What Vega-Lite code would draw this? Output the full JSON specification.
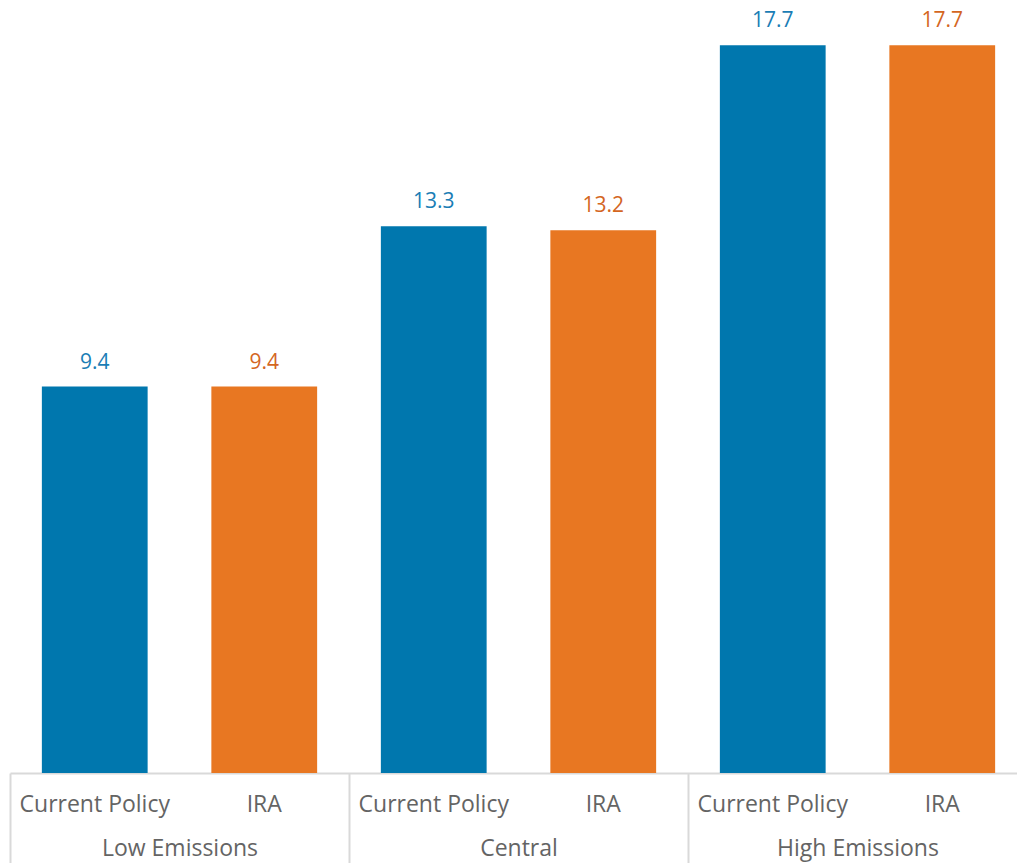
{
  "$schema": "https://vega.github.io/schema/vega-lite/v6.json",
  "width": 1007,
  "height": 773,
  "autosize": {"type": "none"},
  "padding": {"left": 10, "top": 0, "right": 0, "bottom": 90},
  "background": "white",
  "config": {"view": {"stroke": null}, "font": "Open Sans"},
  "data": {"values": [
    {"group": "Low Emissions", "policy": "Current Policy", "value": 9.4},
    {"group": "Low Emissions", "policy": "IRA", "value": 9.4},
    {"group": "Central", "policy": "Current Policy", "value": 13.3},
    {"group": "Central", "policy": "IRA", "value": 13.2},
    {"group": "High Emissions", "policy": "Current Policy", "value": 17.7},
    {"group": "High Emissions", "policy": "IRA", "value": 17.7}
  ]},
  "encoding": {
    "x": {
      "field": "group", "type": "nominal", "sort": ["Low Emissions", "Central", "High Emissions"],
      "scale": {"range": [0, 1017], "paddingInner": 0, "paddingOuter": 0},
      "axis": {
        "title": null, "orient": "bottom",
        "domain": true, "domainColor": "#d9d9d9", "domainWidth": 2,
        "ticks": true, "tickBand": "extent", "tickSize": 90, "tickColor": "#d9d9d9", "tickWidth": 2,
        "labelAngle": 0, "labelFontSize": 23, "labelColor": "#646464", "labelFont": "Open Sans",
        "labelBaseline": "alphabetic", "labelPadding": -8, "grid": false
      }
    },
    "xOffset": {
      "field": "policy", "type": "nominal", "sort": ["Current Policy", "IRA"],
      "scale": {"paddingInner": 0.376, "paddingOuter": 0.188}
    },
    "y": {
      "field": "value", "type": "quantitative",
      "scale": {"domain": [0, 18.8], "nice": false, "zero": true},
      "axis": null
    }
  },
  "layer": [
    {
      "mark": {"type": "bar"},
      "encoding": {
        "color": {
          "field": "policy", "type": "nominal",
          "scale": {"domain": ["Current Policy", "IRA"], "range": ["#0077AE", "#E87722"]},
          "legend": null
        }
      }
    },
    {
      "mark": {"type": "text", "baseline": "alphabetic", "dy": -18, "fontSize": 21, "font": "Open Sans"},
      "encoding": {
        "text": {"field": "value", "type": "quantitative", "format": ".1f"},
        "color": {"condition": {"test": "datum.policy === 'IRA'", "value": "#D4661F"}, "value": "#1A7DB5"}
      }
    },
    {
      "mark": {"type": "text", "baseline": "alphabetic", "dy": 39, "fontSize": 23, "font": "Open Sans", "color": "#646464"},
      "encoding": {
        "y": {"datum": 0, "type": "quantitative"},
        "text": {"field": "policy", "type": "nominal"}
      }
    }
  ]
}
